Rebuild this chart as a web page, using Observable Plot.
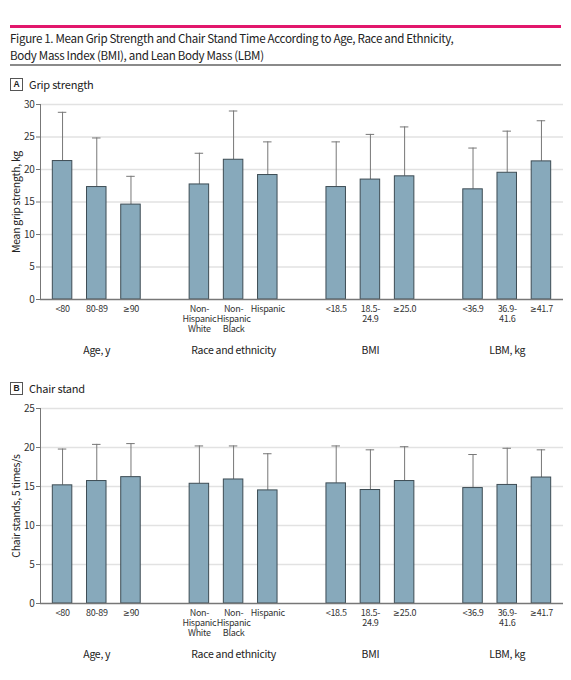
<!DOCTYPE html>
<html><head><meta charset="utf-8">
<script src="https://cdn.jsdelivr.net/npm/d3@7"></script>
<script src="https://cdn.jsdelivr.net/npm/@observablehq/plot@0.6"></script>
<style>
@font-face{font-family:"GeFix";src:local("DejaVu Sans Condensed"),local("DejaVu Sans");unicode-range:U+2264-2265;}
body{margin:0;background:#fff;font-family:"GeFix","Noto Sans CJK SC","Liberation Sans",sans-serif;color:#222}
#page{position:relative;width:571px;height:680px;overflow:hidden;background:#fff}
.pink{position:absolute;left:10px;right:10px;top:25px;height:3px;background:#e2176c}
.title{position:absolute;left:10px;top:30px;font-size:11.6px;line-height:17px;color:#222;white-space:nowrap;letter-spacing:-0.33px}
.rule{position:absolute;left:10px;right:10px;top:64px;height:2px;background:#8a8a8a}
.plabel{position:absolute;left:10px;font-size:11px;line-height:13px;display:flex;align-items:center;color:#222;letter-spacing:-0.2px}
.plabel .box{box-sizing:border-box;width:13px;height:13px;border:1px solid #555;font-weight:bold;font-size:8.5px;display:flex;align-items:center;justify-content:center;margin-right:6px;font-family:"Liberation Sans",sans-serif}
.chart{position:absolute;left:0}
</style>
</head><body>
<div id="page">
  <div class="pink"></div>
  <div class="title">Figure 1. Mean Grip Strength and Chair Stand Time According to Age, Race and Ethnicity,<br>Body Mass Index (BMI), and Lean Body Mass (LBM)</div>
  <div class="rule"></div>
  <div class="plabel" style="top:78px"><span class="box">A</span>Grip strength</div>
  <div class="chart" id="chartA" style="top:94px"></div>
  <div class="plabel" style="top:382px"><span class="box">B</span>Chair stand</div>
  <div class="chart" id="chartB" style="top:398px"></div>
</div>
<script>
const FONT = '"GeFix","Noto Sans CJK SC","Liberation Sans",sans-serif';

const groups = ["Age, y", "Race and ethnicity", "BMI", "LBM, kg"];
const categories = [
  ["<80", "80-89", "≥90"],
  ["Non-\nHispanic\nWhite", "Non-\nHispanic\nBlack", "Hispanic"],
  ["<18.5", "18.5-\n24.9", "≥25.0"],
  ["<36.9", "36.9-\n41.6", "≥41.7"]
];

// Panel A: grip strength, kg (mean and SD)
const gripMean = [21.3, 17.3, 14.6, 17.7, 21.5, 19.15, 17.3, 18.45, 18.95, 16.95, 19.5, 21.25];
const gripSD   = [7.5, 7.55, 4.35, 4.8, 7.5, 5.1, 6.95, 6.95, 7.6, 6.35, 6.4, 6.25];
const gripTicks = [0, 5, 10, 15, 20, 25, 30];

// Panel B: chair stands (mean and SD)
const chairMean = [15.15, 15.7, 16.2, 15.35, 15.9, 14.5, 15.4, 14.55, 15.7, 14.8, 15.2, 16.15];
const chairSD   = [4.65, 4.7, 4.3, 4.85, 4.3, 4.7, 4.8, 5.15, 4.4, 4.3, 4.7, 3.55];
const chairTicks = [0, 5, 10, 15, 20, 25];

const rows = [];
const domain = [];
const labelOf = {};
categories.forEach((cats, g) => {
  if (g > 0) domain.push("gap" + g);
  cats.forEach((label, j) => {
    const key = groups[g] + "|" + label;
    domain.push(key);
    labelOf[key] = label;
    rows.push({group: groups[g], label, key, mid: j === 1});
  });
});

function panel(means, sds, ticks, yLabel) {
  const data = rows.map((r, i) => ({...r, mean: means[i], upper: means[i] + sds[i]}));
  return Plot.plot({
    width: 571, height: 270,
    marginLeft: 40, marginRight: 8, marginTop: 10, marginBottom: 65,
    style: {fontFamily: FONT, fontSize: "9.2px", color: "#333", background: "white", overflow: "visible", letterSpacing: "-0.3px"},
    x: {type: "band", domain, paddingInner: 0.43, paddingOuter: 0.36, round: false, axis: null},
    y: {domain: [0, ticks[ticks.length - 1]], axis: null},
    marks: [
      Plot.ruleY(ticks.slice(1), {stroke: "#e2e2e2", strokeWidth: 1.3}),
      Plot.ruleX(data, {x: "key", y1: "mean", y2: "upper", stroke: "#777", strokeWidth: 1}),
      Plot.tickY(data, {x: "key", y: "upper", stroke: "#777", strokeWidth: 1, insetLeft: 5.5, insetRight: 5.5}),
      Plot.barY(data, {x: "key", y: "mean", fill: "#87a9bb", stroke: "#3d4c54", strokeWidth: 1}),
      Plot.ruleY([0], {stroke: "#777", strokeWidth: 1.3}),
      Plot.frame({anchor: "left", stroke: "#777"}),
      Plot.axisY({ticks, tickSize: 4, tickPadding: 2, label: null, stroke: "#777", color: "#333", fontSize: 10}),
      Plot.axisX({ticks: data.map(d => d.key), tickFormat: k => labelOf[k], tickSize: 0, tickPadding: 5, label: null, fontSize: 9, lineHeight: 1.12, color: "#333"}),
      Plot.text(data.filter(d => d.mid), {x: "key", text: "group", frameAnchor: "bottom", dy: 54, fontSize: 10.5, fill: "#222"}),
      Plot.text([yLabel], {frameAnchor: "left", rotate: -90, textAnchor: "middle", dx: -24, fontSize: 10.5, fill: "#222", text: d => d})
    ]
  });
}

document.getElementById("chartA").append(panel(gripMean, gripSD, gripTicks, "Mean grip strength, kg"));
document.getElementById("chartB").append(panel(chairMean, chairSD, chairTicks, "Chair stands, 5 times/s"));
</script>
</body></html>
